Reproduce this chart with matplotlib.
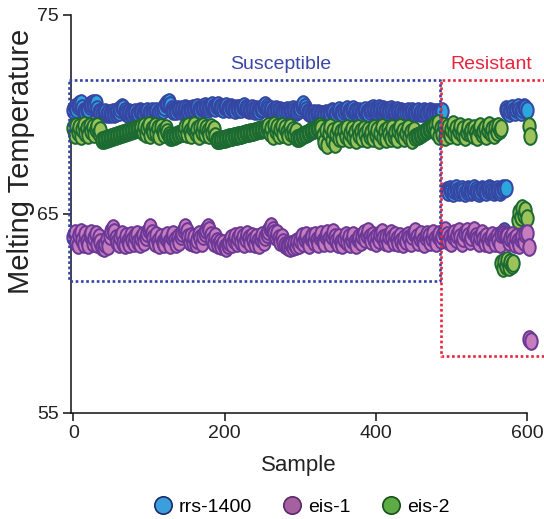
import numpy as np
import matplotlib
matplotlib.use("Agg")
import matplotlib.pyplot as plt
from matplotlib.path import Path
from matplotlib.transforms import Affine2D
from matplotlib.lines import Line2D

plt.rcParams['font.family'] = ['Liberation Sans', 'DejaVu Sans']

# ---------------- data ----------------
series_names = ["rrs-1400", "eis-1", "eis-2"]
x_ticks = [0, 200, 400, 600]
y_ticks = [55, 65, 75]

# rrs-1400 : susceptible samples 0..488 (every 2nd sample)
rrs_susc = [
    70.25, 70.40, 70.30, 70.45, 70.55, 70.60, 70.35, 70.20, 70.15, 70.25,
    70.30, 70.45, 70.55, 70.60, 70.50, 70.60, 70.30, 70.15, 70.10, 70.05,
    70.10, 70.15, 70.05, 70.10, 70.00, 70.10, 70.15, 70.05, 70.10, 70.20,
    70.15, 70.30, 70.40, 70.35, 70.20, 70.10, 70.05, 70.15, 70.10, 70.05,
    70.10, 70.15, 70.05, 70.10, 70.20, 70.15, 70.10, 70.05, 70.15, 70.20,
    70.10, 70.15, 70.20, 70.10, 70.15, 70.20, 70.10, 70.15, 70.20, 70.25,
    70.40, 70.55, 70.60, 70.65, 70.50, 70.30, 70.20, 70.25, 70.20, 70.30,
    70.25, 70.20, 70.30, 70.25, 70.35, 70.30, 70.20, 70.25, 70.30, 70.35,
    70.30, 70.35, 70.40, 70.30, 70.25, 70.35, 70.40, 70.45, 70.35, 70.30,
    70.40, 70.45, 70.50, 70.40, 70.35, 70.45, 70.50, 70.40, 70.35, 70.30,
    70.40, 70.45, 70.35, 70.30, 70.40, 70.35, 70.30, 70.25, 70.35, 70.30,
    70.35, 70.30, 70.40, 70.45, 70.35, 70.30, 70.25, 70.30, 70.35, 70.25,
    70.20, 70.30, 70.25, 70.20, 70.30, 70.35, 70.45, 70.50, 70.40, 70.30,
    70.25, 70.30, 70.20, 70.25, 70.30, 70.20, 70.15, 70.25, 70.20, 70.15,
    70.20, 70.25, 70.15, 70.20, 70.25, 70.30, 70.20, 70.15, 70.20, 70.25,
    70.35, 70.45, 70.55, 70.40, 70.25, 70.15, 70.10, 70.00, 70.05, 70.10,
    69.95, 70.05, 70.10, 70.00, 70.05, 69.95, 70.00, 70.10, 70.05, 70.00,
    70.10, 70.20, 70.15, 70.05, 70.10, 70.20, 70.25, 70.15, 70.10, 70.20,
    70.25, 70.30, 70.20, 70.15, 70.25, 70.30, 70.20, 70.15, 70.10, 70.20,
    70.15, 70.10, 70.20, 70.25, 70.15, 70.10, 70.20, 70.30, 70.35, 70.25,
    70.20, 70.30, 70.35, 70.25, 70.20, 70.30, 70.25, 70.20, 70.15, 70.25,
    70.30, 70.20, 70.15, 70.20, 70.25, 70.15, 70.10, 70.20, 70.15, 70.10,
    70.15, 70.20, 70.10, 70.15, 70.20, 70.15, 70.10, 70.15, 70.20, 70.10,
    70.15, 70.10, 70.20, 70.15, 70.10, 70.15, 70.20, 70.15, 70.10, 70.15,
    70.10, 70.15, 70.10, 70.15, 70.20,
]
rrs_susc_start = 0
# rrs-1400 : resistant, low group (samples 494..572)
rrs_res_low = [
    66.20, 66.10, 66.25, 66.15, 66.05, 66.20, 66.30, 66.15, 66.10, 66.20,
    66.25, 66.15, 66.05, 66.15, 66.25, 66.20, 66.10, 66.15, 66.30, 66.20,
    66.10, 66.05, 66.15, 66.25, 66.20, 66.15, 66.10, 66.20, 66.30, 66.25,
    66.15, 66.10, 66.20, 66.25, 66.15, 66.10, 66.20, 66.30, 66.25, 66.30,
]
rrs_res_low_start = 494
# rrs-1400 : resistant, high group (samples 572..600)
rrs_res_high = [70.30, 70.20, 70.10, 70.25, 70.35, 70.20, 70.15, 70.30,
                70.40, 70.25, 70.15, 70.30, 70.40, 70.35, 70.25]
rrs_res_high_start = 572
rrs_extra_x = [570]
rrs_extra_y = [64.15]

# eis-2 : samples 0..566 (every 2nd sample)
eis2_main = [
    # 0-36
    69.30, 68.95, 69.40, 69.10, 69.35, 68.90, 69.25, 69.45, 69.05, 69.30,
    68.95, 69.40, 69.15, 69.35, 69.00, 69.25, 69.40, 69.05, 69.20,
    # 38-90
    68.70, 68.72, 68.75, 68.77, 68.80, 68.82, 68.85, 68.87, 68.90, 68.92,
    68.95, 68.97, 69.00, 69.02, 69.05, 69.07, 69.10, 69.12, 69.15, 69.17,
    69.20, 69.22, 69.25, 69.27, 69.30, 69.32, 69.35,
    # 92-126
    69.10, 69.40, 69.00, 69.30, 69.45, 68.95, 69.25, 69.10, 69.40, 69.05,
    69.30, 68.90, 69.35, 69.15, 69.00, 69.30, 69.10, 68.95,
    # 128-146
    68.85, 68.88, 68.91, 68.94, 68.97, 69.00, 69.03, 69.06, 69.09, 69.12,
    # 148-188
    69.35, 69.00, 69.40, 69.15, 68.95, 69.30, 69.45, 69.05, 69.25, 68.90,
    69.35, 69.10, 69.40, 69.00, 69.30, 69.15, 68.95, 69.35, 69.05, 69.25,
    68.90,
    # 190-256
    68.70, 68.72, 68.74, 68.76, 68.77, 68.79, 68.81, 68.83, 68.85, 68.87,
    68.88, 68.90, 68.92, 68.94, 68.96, 68.98, 68.99, 69.01, 69.03, 69.05,
    69.07, 69.09, 69.10, 69.12, 69.14, 69.16, 69.18, 69.20, 69.21, 69.23,
    69.25, 69.27, 69.29, 69.30,
    # 258-294
    69.40, 69.05, 69.30, 68.90, 69.45, 69.15, 69.35, 68.95, 69.25, 69.40,
    69.00, 69.30, 69.10, 68.90, 69.35, 69.05, 69.20, 68.95, 69.15,
    # 296-326
    68.80, 68.84, 68.88, 68.92, 68.96, 69.00, 69.04, 69.08, 69.12, 69.16,
    69.20, 69.24, 69.28, 69.32, 69.36, 69.40,
    # 328-354
    69.30, 68.95, 68.60, 69.20, 68.45, 69.05, 69.35, 68.70, 69.15, 68.50,
    69.00, 69.25, 68.80, 69.10,
    # 356-392
    68.80, 69.20, 68.90, 69.30, 68.75, 69.05, 69.25, 68.85, 69.10, 68.70,
    69.30, 68.95, 69.15, 68.80, 69.25, 69.00, 68.75, 69.20, 68.90,
    # 394-450
    69.10, 68.80, 69.30, 68.95, 69.20, 68.70, 69.05, 69.35, 68.85, 69.15,
    68.75, 69.25, 69.00, 68.80, 69.30, 68.90, 69.10, 68.75, 69.20, 69.35,
    68.95, 69.15, 68.80, 69.05, 69.30, 68.85, 69.10, 68.70, 69.20,
    # 452-476
    68.85, 68.90, 68.94, 68.99, 69.03, 69.08, 69.12, 69.17, 69.21, 69.26,
    69.30, 69.35, 69.40,
    # 478-566
    69.45, 69.10, 69.55, 68.90, 69.30, 69.00, 69.40, 68.85, 69.20, 69.35,
    68.95, 69.25, 69.50, 69.05, 69.30, 68.90, 69.15, 69.40, 69.00, 69.25,
    68.85, 69.10, 69.35, 69.05, 69.20, 68.95, 69.30, 69.10, 68.85, 69.25,
    69.40, 69.00, 69.15, 69.30, 68.90, 69.20, 69.45, 69.05, 69.25, 68.95,
    69.35, 69.10, 69.40, 69.20, 69.30,
]
eis2_main_start = 0
eis2_low = [62.55, 62.30, 62.65, 62.40, 62.70, 62.35, 62.60, 62.45, 62.55]
eis2_low_start = 566
eis2_mid = [64.70, 65.10, 64.85, 65.30, 64.95, 65.20, 64.80]
eis2_mid_start = 588
eis2_extra_x = [603, 604]
eis2_extra_y = [69.40, 68.90]

# eis-1 : samples 0..602 (every 2nd sample)
eis1_main = [
    63.85, 64.05, 63.60, 63.45, 63.95, 64.10, 63.70, 63.50, 64.00, 63.65,
    63.45, 63.95, 64.05, 63.55, 63.80, 64.00, 63.50, 63.85, 63.60, 63.35,
    63.30, 63.50, 63.75, 63.40, 63.90, 64.15, 64.30, 64.10, 63.80, 63.60,
    63.50, 63.85, 64.00, 63.55, 63.45, 63.90, 63.65, 63.50, 63.95, 63.70,
    63.55, 63.90, 64.00, 63.60, 63.50, 63.80, 63.95, 63.60, 63.85, 64.05,
    64.20, 64.35, 64.05, 63.80, 63.55, 63.95, 63.65, 63.45, 63.85, 63.60,
    63.50, 63.80, 63.95, 63.60, 63.45, 63.85, 64.00, 63.70, 63.50, 63.85,
    63.60, 63.90, 64.05, 64.20, 64.35, 64.15, 63.85, 63.60, 63.90, 63.55,
    63.85, 63.50, 63.70, 64.00, 63.80, 63.55, 63.90, 64.05, 64.20, 64.35,
    64.20, 63.95, 63.70, 63.55, 63.90, 63.65, 63.45, 63.60, 63.40, 63.55,
    63.35, 63.30, 63.45, 63.60, 63.80, 63.50, 63.70, 63.90, 63.55, 63.80,
    63.95, 63.60, 63.85, 63.50, 63.75, 64.00, 63.80, 63.55, 63.90, 63.70,
    63.50, 63.85, 63.65, 63.45, 63.75, 63.95, 63.60, 63.85, 64.00, 64.15,
    64.30, 64.40, 64.20, 64.05, 63.85, 64.05, 63.80, 63.60, 63.85, 63.60,
    63.45, 63.40, 63.35, 63.30, 63.50, 63.35, 63.55, 63.40, 63.65, 63.45,
    63.70, 63.90, 63.55, 63.75, 63.95, 63.60, 63.45, 63.80, 63.90, 63.60,
    63.95, 63.70, 63.50, 63.85, 64.00, 63.65, 63.55, 63.90, 64.05, 63.75,
    63.55, 63.90, 64.10, 63.85, 63.65, 63.50, 63.85, 63.60, 63.45, 63.75,
    63.95, 63.60, 63.85, 63.50, 63.70, 63.95, 63.60, 63.45, 63.75, 63.85,
    63.60, 63.90, 64.05, 63.75, 63.95, 64.15, 63.85, 63.65, 63.95, 63.75,
    63.55, 63.90, 63.70, 64.00, 64.10, 63.80, 63.60, 63.85, 63.55, 63.90,
    64.05, 63.80, 63.60, 63.95, 63.75, 63.55, 63.90, 63.65, 63.50, 63.80,
    63.65, 63.95, 63.80, 63.55, 63.90, 64.05, 64.15, 63.85, 63.60, 63.80,
    64.00, 63.70, 63.50, 63.85, 64.00, 63.90, 63.60, 63.80, 64.05, 63.75,
    63.55, 63.90, 64.00, 63.70, 63.90, 64.10, 64.20, 63.95, 63.65, 63.85,
    63.55, 63.90, 64.05, 63.75, 63.95, 64.15, 63.85, 63.55, 63.80, 64.05,
    64.15, 63.90, 63.65, 63.85, 64.10, 64.20, 63.90, 63.75, 63.55, 63.85,
    64.05, 63.75, 63.55, 63.90, 63.70, 63.50, 63.80, 63.95, 63.70, 63.55,
    63.90, 63.70, 63.50, 64.00, 64.05, 64.00, 63.95, 63.90, 63.60, 63.80,
    63.95, 63.70, 63.50, 63.85, 63.65, 63.45, 63.75, 63.90, 63.60, 64.00,
    64.05, 63.35,
]
eis1_main_start = 0
eis1_extra_x = [602, 605]
eis1_extra_y = [58.72, 58.62]

# group annotation boxes (sample range, temperature range)
susc_box = dict(x0=-5.5, x1=485, y0=61.63, y1=71.73, label="Susceptible", label_x=274)
res_box = dict(x0=486.5, y0=57.86, y1=71.73, label="Resistant", label_x=553)

# ---------------- styling ----------------
fill_cols = {"rrs-1400": "#2ba6df", "eis-1": "#c77cbd", "eis-2": "#9cc35a"}
edge_cols = {"rrs-1400": "#3646a2", "eis-1": "#6b3896", "eis-2": "#1b6a31"}
leg_fill = {"rrs-1400": "#3a9fdc", "eis-1": "#a560a0", "eis-2": "#5bac45"}
leg_edge = {"rrs-1400": "#1c2b6a", "eis-1": "#5a2a6a", "eis-2": "#1a4d1c"}


def seg(start, vals):
    return np.arange(start, start + 2 * len(vals), 2)


rrs_x = np.concatenate([seg(rrs_susc_start, rrs_susc), seg(rrs_res_low_start, rrs_res_low),
                        rrs_extra_x, seg(rrs_res_high_start, rrs_res_high)])
rrs_y = np.concatenate([rrs_susc, rrs_res_low, rrs_extra_y, rrs_res_high])
eis2_x = np.concatenate([seg(eis2_main_start, eis2_main), seg(eis2_low_start, eis2_low),
                         seg(eis2_mid_start, eis2_mid), eis2_extra_x])
eis2_y = np.concatenate([eis2_main, eis2_low, eis2_mid, eis2_extra_y])
eis1_x = np.concatenate([seg(eis1_main_start, eis1_main), eis1_extra_x])
eis1_y = np.concatenate([eis1_main, eis1_extra_y])

W, H = 544, 519
fig = plt.figure(figsize=(W / 100, H / 100), dpi=100)
ax_l, ax_r, ax_t, ax_b = 71, 527, 15, 413
ax = fig.add_axes([ax_l / W, (H - ax_b) / H, (ax_r - ax_l) / W, (ax_b - ax_t) / H])

ell = Path.unit_circle().transformed(Affine2D().scale(0.74, 1.0))
msz = 12.0 ** 2
for name, xs, ys in [("rrs-1400", rrs_x, rrs_y), ("eis-2", eis2_x, eis2_y), ("eis-1", eis1_x, eis1_y)]:
    ax.scatter(xs, ys, marker=ell, s=msz, facecolor=fill_cols[name],
               edgecolor=edge_cols[name], linewidths=1.45, clip_on=False, zorder=3)

ax.set_xlim(-3, 600)
ax.set_ylim(55, 75)
ax.set_xticks(x_ticks)
ax.set_yticks(y_ticks)
for s in ["top", "right"]:
    ax.spines[s].set_visible(False)
for s in ["left", "bottom"]:
    ax.spines[s].set_linewidth(1.1)
    ax.spines[s].set_color("#111111")
ax.tick_params(direction="out", length=6, width=1.1, labelsize=14,
               colors="#111111", labelcolor="#222222", pad=3)
ax.set_xlabel("Sample", fontsize=16, labelpad=9, color="#222222")
ax.set_ylabel("Melting Temperature", fontsize=21, color="#222222")
ax.yaxis.set_label_coords((35 - ax_l) / (ax_r - ax_l), (ax_b - 161) / (ax_b - ax_t))

# annotation boxes
blue_box = "#3443a6"
red_box = "#e8243c"
lsd = (0, (1, 1))
b = susc_box
ax.plot([b["x0"], b["x1"], b["x1"], b["x0"], b["x0"]],
        [b["y1"], b["y1"], b["y0"], b["y0"], b["y1"]],
        color=blue_box, lw=1.9, linestyle=lsd, clip_on=False, zorder=4)
r = res_box
ax.plot([700, r["x0"], r["x0"], 700], [r["y1"], r["y1"], r["y0"], r["y0"]],
        color=red_box, lw=1.9, linestyle=lsd, clip_on=False, zorder=4)
ax.text(b["label_x"], 72.5, b["label"], color="#3a47a8", fontsize=14,
        ha="center", va="center")
ax.text(r["label_x"], 72.5, r["label"], color=red_box, fontsize=14, ha="center", va="center")

handles = [Line2D([], [], linestyle="none", marker="o", markersize=12.5,
                  markerfacecolor=leg_fill[n], markeredgecolor=leg_edge[n],
                  markeredgewidth=1.2) for n in series_names]
fig.legend(handles, series_names, loc="center", bbox_to_anchor=(301 / W, (H - 507) / H),
           ncol=3, frameon=False, fontsize=14, handletextpad=0.3, columnspacing=1.6,
           handlelength=1.0)

fig.savefig("out.png", dpi=100)
